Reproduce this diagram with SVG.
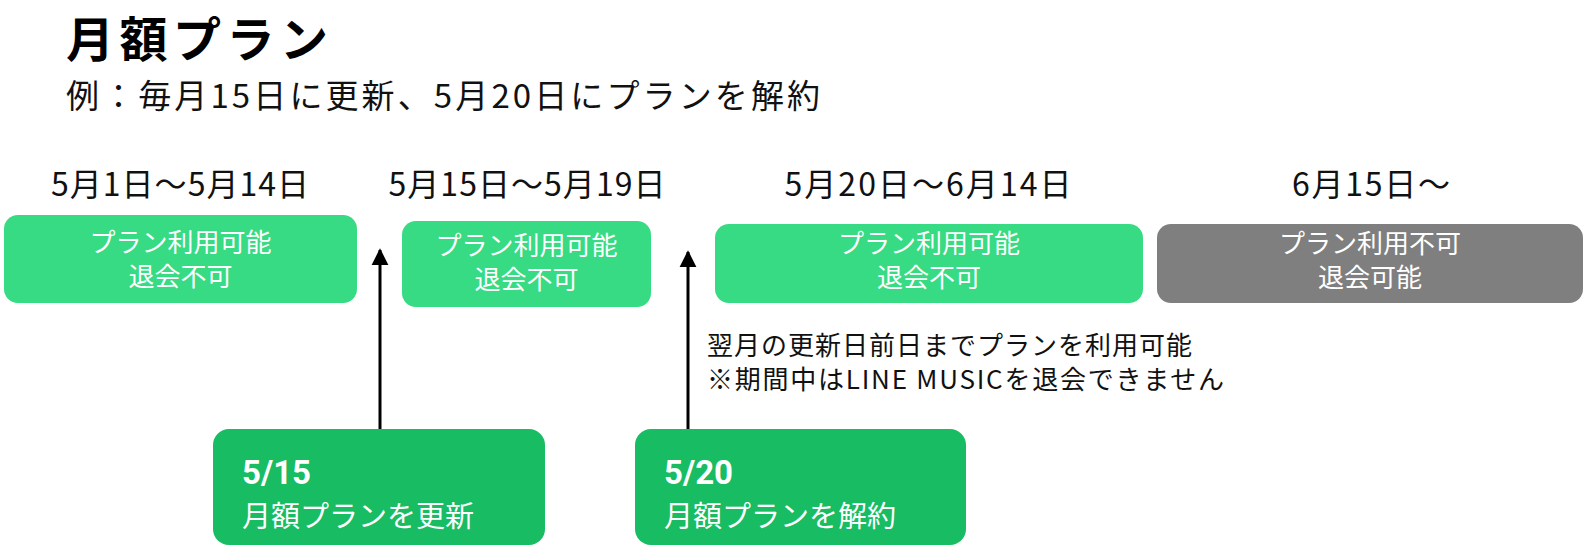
<svg xmlns="http://www.w3.org/2000/svg" width="1585" height="549" viewBox="0 0 1585 549">
<defs>
<style>
text{font-family:"Noto Sans CJK JP","Noto Sans",sans-serif;}
.title{font-size:48px;font-weight:bold;fill:#000;}
.sub{font-size:33px;fill:#111;}
.date{font-size:32px;fill:#111;text-anchor:middle;}
.st{font-size:26px;fill:#fff;text-anchor:middle;}
.note{font-size:26px;fill:#111;}
.ev1{font-size:33px;font-weight:bold;fill:#fff;font-family:Roboto,"Noto Sans CJK JP",sans-serif;}
.ev2{font-size:29px;fill:#fff;}
.ok{fill:#36DB83;}
.ng{fill:#7F7F7F;}
.ev{fill:#18BC63;}
.arrow{stroke:#000;stroke-width:3;fill:none;marker-end:url(#ah);}
</style>
<marker id="ah" viewBox="0 0 10 10" refX="9" refY="5" markerUnits="userSpaceOnUse" markerWidth="17" markerHeight="20" orient="auto">
<path d="M0,0 L10,5 L0,10 Z" fill="#000"/>
</marker>
</defs>
<rect width="1585" height="549" fill="#fff"/>
<g id="header">
<text class="title" x="66" y="57" textLength="262" lengthAdjust="spacing">月額プラン</text>
<text class="sub" x="66" y="108" textLength="754" lengthAdjust="spacing">例：毎月15日に更新、5月20日にプランを解約</text>
</g>
<g id="dates">
<text class="date" x="180" y="196" textLength="258" lengthAdjust="spacing">5月1日～5月14日</text>
<text class="date" x="527" y="196" textLength="277" lengthAdjust="spacing">5月15日～5月19日</text>
<text class="date" x="928" y="196" textLength="287" lengthAdjust="spacing">5月20日～6月14日</text>
<text class="date" x="1371" y="196" textLength="158" lengthAdjust="spacing">6月15日～</text>
</g>
<g id="period1">
<rect class="ok" x="4" y="215" width="353" height="88" rx="14"/>
<text class="st" x="180.5" y="252">プラン利用可能</text>
<text class="st" x="180.5" y="286">退会不可</text>
</g>
<g id="period2">
<rect class="ok" x="402" y="221" width="249" height="86" rx="14"/>
<text class="st" x="526.5" y="255">プラン利用可能</text>
<text class="st" x="526.5" y="289">退会不可</text>
</g>
<g id="period3">
<rect class="ok" x="715" y="224" width="428" height="79" rx="14"/>
<text class="st" x="929" y="253">プラン利用可能</text>
<text class="st" x="929" y="287">退会不可</text>
</g>
<g id="period4">
<rect class="ng" x="1157" y="224" width="426" height="79" rx="14"/>
<text class="st" x="1370" y="253">プラン利用不可</text>
<text class="st" x="1370" y="287">退会可能</text>
</g>
<g id="note">
<text class="note" x="707" y="355" textLength="485" lengthAdjust="spacing">翌月の更新日前日までプランを利用可能</text>
<text class="note" x="707" y="389" textLength="517" lengthAdjust="spacing">※期間中はLINE MUSICを退会できません</text>
</g>
<g id="connectors">
<line class="arrow" x1="380" y1="429" x2="380" y2="250"/>
<line class="arrow" x1="688" y1="429" x2="688" y2="252"/>
</g>
<g id="event1">
<rect class="ev" x="213" y="429" width="332" height="116" rx="16"/>
<text class="ev1" x="242" y="484">5/15</text>
<text class="ev2" x="242" y="527">月額プランを更新</text>
</g>
<g id="event2">
<rect class="ev" x="635" y="429" width="331" height="116" rx="16"/>
<text class="ev1" x="664" y="484">5/20</text>
<text class="ev2" x="664" y="527">月額プランを解約</text>
</g>
</svg>
